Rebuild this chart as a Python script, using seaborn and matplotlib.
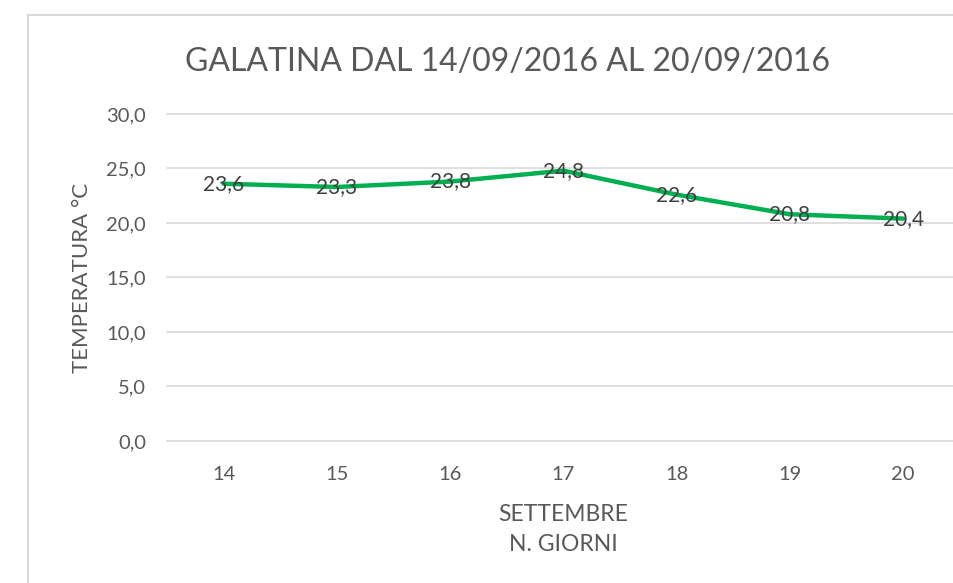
import numpy as np
import pandas as pd
import matplotlib
matplotlib.use("Agg")
import matplotlib.pyplot as plt
import seaborn as sns
from matplotlib.patches import Rectangle

# Temperature readings, Galatina, 14-20 September 2016
days = ["14", "15", "16", "17", "18", "19", "20"]
temps = [23.6, 23.3, 23.8, 24.8, 22.6, 20.8, 20.4]
y_ticks = [0, 5, 10, 15, 20, 25, 30]

title = "GALATINA DAL 14/09/2016 AL 20/09/2016"
x_label = "SETTEMBRE\nN. GIORNI"
y_label = "TEMPERATURA °C"

df = pd.DataFrame({"giorno": days, "temp": temps})

sns.set_theme(style="white")
plt.rcParams["font.family"] = ["Lato", "DejaVu Sans"]

text_col = "#595959"
fig = plt.figure(figsize=(9.54, 5.83), dpi=100)
ax = fig.add_axes([0.175, 0.2436, 0.831, 0.5609])

# chart frame, like the Excel chart area border
fig.patches.append(Rectangle((28 / 954, -0.1), 1.2, 1 - 15 / 583 + 0.1,
                             transform=fig.transFigure, fill=False,
                             edgecolor="#D9D9D9", linewidth=1.5))

sns.lineplot(data=df, x="giorno", y="temp", ax=ax, color="#00B050",
             linewidth=3.2, sort=False)

for i, v in enumerate(temps):
    ax.text(i, v, f"{v:.1f}".replace(".", ","), ha="center", va="center",
            fontsize=15, color="#404040")

ax.set_xlim(-0.5, len(days) - 0.5)
ax.set_ylim(0, 30)
ax.set_yticks(y_ticks)
ax.set_yticklabels([f"{t:.1f}".replace(".", ",") for t in y_ticks])
ax.yaxis.grid(True, color="#D9D9D9", linewidth=1.2)
ax.set_axisbelow(True)
for gl in ax.get_ygridlines():
    gl.set_clip_on(False)
for s in ax.spines.values():
    s.set_visible(False)
ax.tick_params(axis="both", length=0, labelsize=14.5, labelcolor=text_col)
ax.tick_params(axis="y", pad=15)
ax.tick_params(axis="x", pad=18)

ax.set_xlabel(x_label, fontsize=16.5, color=text_col, labelpad=15,
              linespacing=1.55)
ax.set_ylabel(y_label, fontsize=16, color=text_col, labelpad=10)
fig.text(508 / 954, 1 - 62 / 583, title, ha="center", va="center",
         fontsize=23, color=text_col)

fig.savefig("out.png", dpi=100, facecolor="white")
